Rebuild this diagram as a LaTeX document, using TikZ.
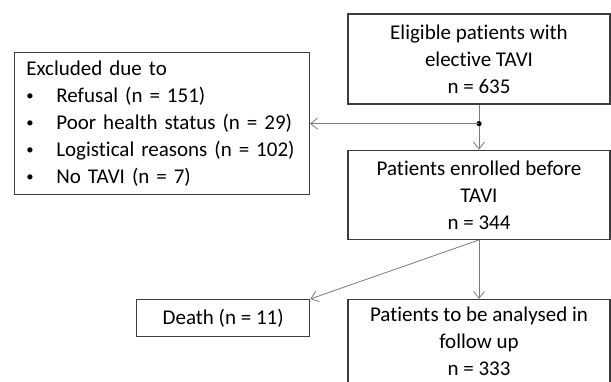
\documentclass[tikz,border=0pt]{standalone}
\usepackage{fontspec}
\setmainfont{Carlito}[Ligatures=CommonOff]
\usepackage{xcolor}
\usepackage{tikz}
\usetikzlibrary{arrows.meta, positioning}

\definecolor{boxgray}{HTML}{3C3C3C}
\definecolor{linegray}{HTML}{7A7A7A}
\newcommand{\flowfont}{\fontsize{21pt}{27pt}\selectfont}
\newcommand{\bulletitem}[1]{\makebox[30pt][l]{\raisebox{1.5pt}{\scalebox{0.7}{\textbullet}}}#1}

\begin{document}
\begin{tikzpicture}[
    x=1pt, y=1pt,
    node distance=45pt and 37pt,
    box/.style={draw=boxgray, line width=1.3pt, align=center,
                minimum width=262pt, minimum height=89pt, inner sep=0pt,
                font=\flowfont},
    smallbox/.style={draw=boxgray, line width=1.3pt, align=center,
                     minimum width=173pt, minimum height=37pt, inner sep=0pt,
                     font=\flowfont},
    listbox/.style={draw=boxgray, line width=1.3pt, align=left,
                    text width=271pt, minimum height=142pt,
                    inner xsep=12pt, inner ysep=0pt, font=\flowfont},
    arr/.style={draw=linegray, line width=0.8pt,
                -{Straight Barb[length=7pt, width=11pt]}}
]
\useasboundingbox (0,0) rectangle (611,381);
\clip (0,0) rectangle (611,381);

\node[box, minimum height=90pt] at (479,322)    (elig)   {Eligible patients with\\elective TAVI\\n = 635};
\node[box, below=of elig]                        (enrol)  {Patients enrolled before\\TAVI\\n = 344};
\node[box, below=59pt of enrol, minimum height=84pt] (follow) {Patients to be analysed in\\follow up\\n = 333};
\node[smallbox, anchor=north east]
     at ([xshift=-37pt]follow.north west)        (death)  {Death (n = 11)};

\coordinate (junc) at ([yshift=-19pt]elig.south);
\node[listbox, anchor=east] at ([xshift=-169pt]junc) (excl)
     {Excluded due to\\
      \bulletitem{Refusal (n = 151)}\\
      \bulletitem{Poor health status (n = 29)}\\
      \bulletitem{Logistical reasons (n = 102)}\\
      \bulletitem{No TAVI (n = 7)}};

\draw[arr] (elig)  -- (enrol);
\fill (junc) circle (2.6pt);
\draw[arr] (junc)  -- (excl);
\draw[arr] (enrol) -- (follow);
\draw[arr] (enrol.south) -- (death.north east);
\end{tikzpicture}
\end{document}
